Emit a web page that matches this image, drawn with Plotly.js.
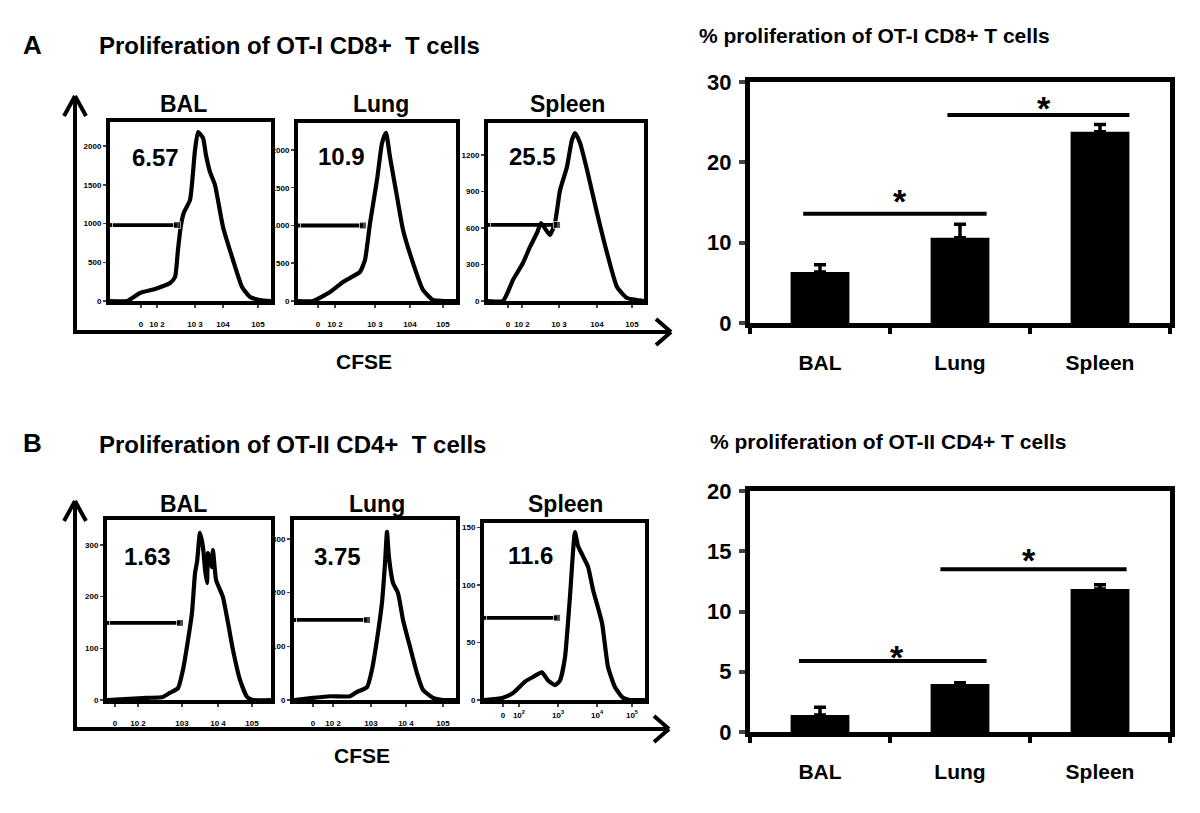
<!DOCTYPE html>
<html>
<head>
<meta charset="utf-8">
<script src="https://cdn.plot.ly/plotly-3.0.1.min.js"></script>
<style>html,body{margin:0;padding:0;background:#fff;}#chart{width:1200px;height:813px;}</style>
</head>
<body>
<div id="chart"></div>
<script>
// ---------------- DATA ----------------
// CFSE histograms, x in display channel units (0-100 across the plot), y = cell count
const histA_BAL_x   = [0, 10.6, 18.6, 28.0, 37.3, 40.4, 42.2, 44.1, 46.0, 49.7, 52.8, 54.7, 57.8, 59.6, 62.1, 65.2, 70.2, 76.4, 82.0, 87.0, 93.2, 100];
const histA_BAL_y   = [0, 0, 103, 155, 232, 310, 658, 981, 1148, 1303, 1948, 2181, 2103, 1884, 1665, 1497, 955, 529, 181, 52, 13, 0];
const histA_Lung_x  = [0, 9.5, 20.3, 28.5, 32.9, 39.2, 42.4, 45.6, 50.0, 53.2, 55.7, 58.2, 62.7, 66.5, 72.8, 79.1, 85.4, 91.8, 100];
const histA_Lung_y  = [0, 0, 119, 252, 305, 384, 543, 1033, 1603, 2093, 2226, 1908, 1378, 941, 503, 146, 13, 0, 0];
const histA_Spl_x   = [0, 9.6, 16.0, 22.4, 26.9, 31.4, 34.0, 37.2, 39.7, 42.9, 46.2, 50.6, 53.8, 55.8, 59.0, 63.5, 69.9, 76.3, 82.7, 89.1, 95.5, 100];
const histA_Spl_y   = [0, 0, 173, 312, 444, 559, 641, 584, 543, 641, 912, 1101, 1324, 1381, 1299, 1077, 723, 395, 115, 25, 8, 0];

const histB_BAL_x   = [0, 24.4, 34.1, 38.4, 43.3, 46.3, 49.4, 51.8, 53.7, 54.9, 56.7, 58.5, 59.8, 61.0, 61.6, 64.0, 64.6, 66.5, 68.9, 70.7, 73.8, 76.8, 81.1, 85.4, 89.0, 100];
const histB_BAL_y   = [0, 4, 6, 14, 23, 58, 116, 168, 246, 267, 323, 296, 252, 226, 284, 257, 290, 232, 213, 199, 149, 97, 39, 6, 0, 0];
const histB_Lung_x  = [0, 11.7, 22.2, 34.6, 38.9, 45.1, 48.1, 51.2, 54.3, 56.2, 57.4, 58.6, 61.1, 64.2, 67.3, 71.6, 75.9, 79.6, 85.8, 92.0, 100];
const histB_Lung_y  = [0, 4, 7, 7, 15, 24, 56, 112, 181, 255, 313, 266, 218, 199, 149, 99, 50, 19, 4, 0, 0];
const histB_Spl_x   = [0, 11.8, 18.0, 25.5, 30.4, 36.0, 39.8, 44.1, 47.2, 50.3, 53.4, 56.5, 58.4, 61.5, 64.6, 67.7, 73.3, 77.0, 81.4, 86.3, 90.7, 100];
const histB_Spl_y   = [0, 2, 6, 16, 20, 24, 17, 13, 17, 37, 90, 146, 134, 125, 116, 96, 67, 29, 11, 2, 0, 0];

// Gates (end position in channel units, gate height in counts) for BAL, Lung, Spleen
const gateEndA   = [41.6, 41.1, 44.2];
const gateLevelA = [980, 1000, 625];
const gateEndB   = [44.5, 45.1, 45.3];
const gateLevelB = [149, 149, 71.5];

// Percent in gate
const pctA = ['6.57', '10.9', '25.5'];
const pctB = ['1.63', '3.75', '11.6'];

// Histogram panel names
const tissues = ['BAL', 'Lung', 'Spleen'];

// CFSE tick labels (as printed) and their channel positions
const cfseTicksA_BAL  = [19.3, 29.2, 52.8, 70.2, 91.9];
const cfseTicksA_Lung = [12.7, 23.4, 48.7, 70.9, 91.8];
const cfseTicksA_Spl  = [12.8, 21.8, 45.5, 69.9, 92.3];
const cfseTextA       = ['0', '10 2', '10 3', '104', '105'];
const cfseTicksB_BAL  = [4.9, 18.9, 45.7, 67.7, 88.4];
const cfseTicksB_Lung = [11.7, 24.1, 47.5, 69.1, 92.0];
const cfseTicksB_Spl  = [11.8, 21.7, 46.0, 70.2, 91.9];
const cfseTextB       = ['0', '10 2', '103', '10 4', '105'];
const cfseTextBSpl    = ['0', '10<sup>2</sup>', '10<sup>3</sup>', '10<sup>4</sup>', '10<sup>5</sup>'];

// Bar charts: % proliferation (mean, error)
const barCats   = ['BAL', 'Lung', 'Spleen'];
const barA      = [6.35, 10.6, 23.8];
const barAerr   = [0.9, 1.7, 0.9];
const barB      = [1.41, 3.98, 11.87];
const barBerr   = [0.65, 0.1, 0.35];

// Significance brackets (category-index units) and star positions
const sigA_from  = [-0.12, 0.91];
const sigA_to    = [1.19, 2.21];
const sigA_level = [13.6, 25.9];
const starA_x    = [0.57, 1.60];
const starA_y    = [16.2, 27.8];
const sigB_from  = [-0.15, 0.86];
const sigB_to    = [1.19, 2.19];
const sigB_level = [5.9, 13.5];
const starB_x    = [0.55, 1.49];
const starB_y    = [6.9, 14.9];

// ---------------- LAYOUT HELPERS ----------------
const W = 1200, H = 813;
const fx = p => p / W;
const fy = p => 1 - p / H;
const FONT = 'Arial, "Liberation Sans", Helvetica, sans-serif';

const traces = [];
function histTrace(x, y, n) {
  traces.push({x: x, y: y, xaxis: 'x' + n, yaxis: 'y' + n, type: 'scatter', mode: 'lines',
    line: {color: 'black', width: 4.2, shape: 'spline', smoothing: 0.5}, hoverinfo: 'skip'});
}
function gateTrace(end, level, n) {
  traces.push({x: [0, end], y: [level, level], xaxis: 'x' + n, yaxis: 'y' + n, type: 'scatter',
    mode: 'lines+markers', line: {color: 'black', width: 3.8},
    marker: {symbol: ['square', 'square'], size: [5, 7], color: 'black'}, hoverinfo: 'skip'});
}
histTrace(histA_BAL_x, histA_BAL_y, '');
histTrace(histA_Lung_x, histA_Lung_y, 2);
histTrace(histA_Spl_x, histA_Spl_y, 3);
histTrace(histB_BAL_x, histB_BAL_y, 4);
histTrace(histB_Lung_x, histB_Lung_y, 5);
histTrace(histB_Spl_x, histB_Spl_y, 6);
['', 2, 3].forEach((n, i) => gateTrace(gateEndA[i], gateLevelA[i], n));
[4, 5, 6].forEach((n, i) => gateTrace(gateEndB[i], gateLevelB[i], n));

// Bars
const catIdx = barCats.map((c, i) => i);
traces.push({x: catIdx, y: barA, xaxis: 'x7', yaxis: 'y7', type: 'bar', width: 0.42,
  marker: {color: 'black', line: {width: 0}},
  error_y: {type: 'data', array: barAerr, arrayminus: barAerr.map(() => 0), visible: true, color: 'black', thickness: 3.5, width: 6}, hoverinfo: 'skip'});
traces.push({x: catIdx, y: barB, xaxis: 'x8', yaxis: 'y8', type: 'bar', width: 0.42,
  marker: {color: 'black', line: {width: 0}},
  error_y: {type: 'data', array: barBerr, arrayminus: barBerr.map(() => 0), visible: true, color: 'black', thickness: 3.5, width: 6}, hoverinfo: 'skip'});
// significance brackets
sigA_from.forEach((f, i) => traces.push({x: [f, sigA_to[i]], y: [sigA_level[i], sigA_level[i]], xaxis: 'x7', yaxis: 'y7',
  type: 'scatter', mode: 'lines', line: {color: 'black', width: 4}, hoverinfo: 'skip'}));
sigB_from.forEach((f, i) => traces.push({x: [f, sigB_to[i]], y: [sigB_level[i], sigB_level[i]], xaxis: 'x8', yaxis: 'y8',
  type: 'scatter', mode: 'lines', line: {color: 'black', width: 4}, hoverinfo: 'skip'}));

// ---------------- AXES ----------------
function histX(n, dom, tickvals, ticktext, standoff) {
  return {domain: [fx(dom[0]), fx(dom[1])], anchor: 'y' + n, range: [0, 100], showgrid: false, zeroline: false,
    showline: true, mirror: true, linecolor: 'black', linewidth: 4,
    tickmode: 'array', tickvals: tickvals, ticktext: ticktext, ticks: 'outside', ticklen: 3, tickwidth: 1.5,
    ticklabelstandoff: standoff, tickfont: {family: FONT, size: 8, weight: 'bold', color: 'black'}, fixedrange: true};
}
function histY(n, dom, top, dtick) {
  return {domain: [fy(dom[1]), fy(dom[0])], anchor: 'x' + n, range: [0, top], dtick: dtick, tick0: 0,
    showgrid: false, zeroline: false, showline: true, mirror: true, linecolor: 'black', linewidth: 4,
    ticks: 'outside', ticklen: 3, tickwidth: 1.5,
    tickfont: {family: FONT, size: 8, weight: 'bold', color: 'black'}, fixedrange: true};
}
function barX(n) {
  return {domain: [fx(750), fx(1170)], anchor: 'y' + n, range: [-0.5, 2.5], showgrid: false, zeroline: false,
    showline: true, mirror: true, linecolor: 'black', linewidth: 5,
    tickmode: 'array', tickvals: catIdx, ticktext: barCats, ticks: '',
    minor: {tick0: -0.5, dtick: 1, ticks: 'outside', ticklen: 6, tickwidth: 4, tickcolor: 'black'},
    ticklabelstandoff: 17, tickfont: {family: FONT, size: 21, weight: 'bold', color: 'black'}, fixedrange: true};
}
function barY(n, dom, top, dtick) {
  return {domain: [fy(dom[1]), fy(dom[0])], anchor: 'x' + n, range: [0, top], dtick: dtick, tick0: 0,
    showgrid: false, zeroline: false, showline: true, mirror: true, linecolor: 'black', linewidth: 5,
    ticks: 'outside', ticklen: 6, tickwidth: 4, ticklabelstandoff: 3,
    tickfont: {family: FONT, size: 22, weight: 'bold', color: 'black'}, fixedrange: true};
}

const layout = {
  width: W, height: H, margin: {l: 0, r: 0, t: 0, b: 0}, showlegend: false,
  paper_bgcolor: 'white', plot_bgcolor: 'white',
  font: {family: FONT, color: 'black'},
  xaxis:  histX('',  [110, 271], cfseTicksA_BAL, cfseTextA, 9),
  yaxis:  histY('',  [122, 301], 2310, 500),
  xaxis2: histX(2, [298, 456], cfseTicksA_Lung, cfseTextA, 9),
  yaxis2: histY(2, [123, 301], 2357, 500),
  xaxis3: histX(3, [488, 644], cfseTicksA_Spl, cfseTextA, 9),
  yaxis3: histY(3, [123, 301], 1463, 300),
  xaxis4: histX(4, [107, 271], cfseTicksB_BAL, cfseTextB, 9),
  yaxis4: histY(4, [520, 700], 348, 100),
  xaxis5: histX(5, [294, 456], cfseTicksB_Lung, cfseTextB, 9),
  yaxis5: histY(5, [520, 700], 335, 100),
  xaxis6: histX(6, [484, 645], cfseTicksB_Spl, cfseTextBSpl, 1),
  yaxis6: histY(6, [523, 700], 154, 50),
  xaxis7: barX(7),
  yaxis7: barY(7, [82, 323], 30, 10),
  xaxis8: barX(8),
  yaxis8: barY(8, [491, 732], 20, 5),
  annotations: [], shapes: []
};

function txt(text, x, y, size, anchor) {
  layout.annotations.push({text: text, x: fx(x), y: fy(y), xref: 'paper', yref: 'paper', showarrow: false,
    xanchor: anchor || 'center', yanchor: 'middle', font: {family: FONT, size: size, color: 'black', weight: 'bold'}});
}
// Panel letters and titles
txt('A', 32, 45, 26);
txt('Proliferation of OT-I CD8+  T cells', 97, 45, 24, 'left');
txt('B', 32, 443, 26);
txt('Proliferation of OT-II CD4+  T cells', 97, 444, 24, 'left');
txt('% proliferation of OT-I CD8+ T cells', 697, 36, 21, 'left');
txt('% proliferation of OT-II CD4+ T cells', 708, 441, 21, 'left');
// Histogram titles
const titleXA = [183, 381, 567], titleXB = [183, 377, 565];
tissues.forEach((t, i) => { txt(t, titleXA[i], 104, 23); txt(t, titleXB[i], 504, 23); });
// Percent labels
const pctPosA = [[155, 157], [341, 156], [532, 156]];
const pctPosB = [[147, 556], [337, 556], [530, 555]];
pctA.forEach((p, i) => txt(p, pctPosA[i][0], pctPosA[i][1], 24));
pctB.forEach((p, i) => txt(p, pctPosB[i][0], pctPosB[i][1], 24));
// CFSE
txt('CFSE', 364, 362, 21);
txt('CFSE', 362, 755, 21);
// Stars
starA_x.forEach((sx, i) => layout.annotations.push({text: '*', x: sx, y: starA_y[i], xref: 'x7', yref: 'y7', showarrow: false,
  yshift: -8, font: {family: FONT, size: 34, weight: 'bold', color: 'black'}}));
starB_x.forEach((sx, i) => layout.annotations.push({text: '*', x: sx, y: starB_y[i], xref: 'x8', yref: 'y8', showarrow: false,
  yshift: -8, font: {family: FONT, size: 34, weight: 'bold', color: 'black'}}));

// Big CFSE / count arrows
function seg(x0, y0, x1, y1) {
  layout.shapes.push({type: 'line', xref: 'paper', yref: 'paper', x0: fx(x0), y0: fy(y0), x1: fx(x1), y1: fy(y1),
    line: {color: 'black', width: 4}});
}
// A
seg(75, 333, 75, 96); seg(75, 96, 64, 116); seg(75, 96, 86, 116);
seg(73, 332, 671, 332); seg(671, 332, 656, 319); seg(671, 332, 656, 345);
// B
seg(75, 730, 75, 501); seg(75, 501, 64, 521); seg(75, 501, 86, 521);
seg(73, 729, 669, 729); seg(669, 729, 654, 716); seg(669, 729, 654, 742);

Plotly.newPlot('chart', traces, layout, {staticPlot: true, displayModeBar: false});
</script>
</body>
</html>
